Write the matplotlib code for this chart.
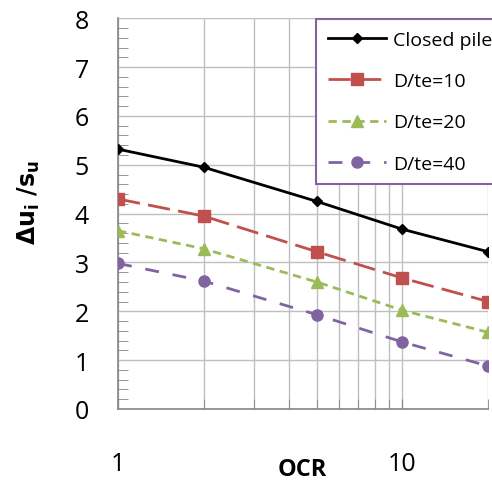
import numpy as np
import matplotlib.pyplot as plt
from matplotlib.ticker import FixedLocator, NullFormatter, MultipleLocator

plt.rcParams['font.family'] = ['Open Sans', 'DejaVu Sans']

ocr = [1, 2, 5, 10, 20]
closed_pile = [5.32, 4.95, 4.25, 3.68, 3.22]
dte10 = [4.30, 3.95, 3.22, 2.68, 2.20]
dte20 = [3.65, 3.28, 2.60, 2.02, 1.57]
dte40 = [2.98, 2.62, 1.93, 1.37, 0.88]

fig = plt.figure(figsize=(4.92, 4.89), dpi=100)
ax = fig.add_axes([0.240, 0.1616, 0.752, 0.799])

ax.plot(ocr, closed_pile, color='black', lw=2, marker='D', ms=5, label='Closed pile', zorder=5)
ax.plot(ocr, dte10, color='#C0504D', lw=2, dashes=(8, 3), marker='s', ms=8, label='D/te=10', zorder=5)
ax.plot(ocr, dte20, color='#9BBB59', lw=2, dashes=(3, 2), marker='^', ms=8, label='D/te=20', zorder=5)
ax.plot(ocr, dte40, color='#8064A2', lw=2, dashes=(5, 5), marker='o', ms=8, label='D/te=40', zorder=5)

ax.set_xscale('log')
ax.set_xlim(1, 20)
ax.set_ylim(0, 8)
ax.xaxis.set_major_locator(FixedLocator([1, 10]))
ax.xaxis.set_minor_locator(FixedLocator([2, 3, 4, 5, 6, 7, 8, 9, 20]))
ax.xaxis.set_major_formatter(plt.FuncFormatter(lambda v, p: '%d' % v))
ax.xaxis.set_minor_formatter(NullFormatter())
ax.yaxis.set_major_locator(MultipleLocator(1))
ax.yaxis.set_minor_locator(MultipleLocator(0.2))

ax.grid(True, which='major', axis='both', color='#BFBFBF', lw=1)
ax.grid(True, which='minor', axis='x', color='#BFBFBF', lw=1)
ax.set_axisbelow(True)

for s in ax.spines.values():
    s.set_color('#868686')
    s.set_linewidth(1.2)
ax.spines['top'].set_visible(False)
ax.spines['right'].set_visible(False)

ax.tick_params(axis='y', which='both', direction='in', colors='#868686', labelcolor='black',
               labelsize=18, pad=21)
ax.tick_params(axis='y', which='major', length=0)
ax.tick_params(axis='y', which='minor', length=7)
ax.tick_params(axis='x', which='both', direction='in', length=7, colors='#868686',
               labelcolor='black', labelsize=18, pad=30)

fig.text(302 / 492, 1 - 470 / 489, 'OCR', fontsize=17, fontweight='bold', ha='center', va='center')
ax.set_ylabel(r'$\mathbf{\Delta u_i\ /s_u}$', fontsize=17)
ax.yaxis.set_label_coords(-0.205, 0.53)

leg = ax.legend(loc='upper left', bbox_to_anchor=(316 / 492, 1 - 20 / 489),
                bbox_transform=fig.transFigure, fontsize=14, frameon=True, fancybox=False,
                handlelength=3.0, labelspacing=1.2, borderpad=0.6, handletextpad=0.35,
                borderaxespad=0)
leg.get_frame().set_edgecolor('#8064A2')
leg.get_frame().set_linewidth(1.5)
leg.get_frame().set_alpha(1)
leg.set_zorder(10)

fig.savefig('out.png', dpi=100)
